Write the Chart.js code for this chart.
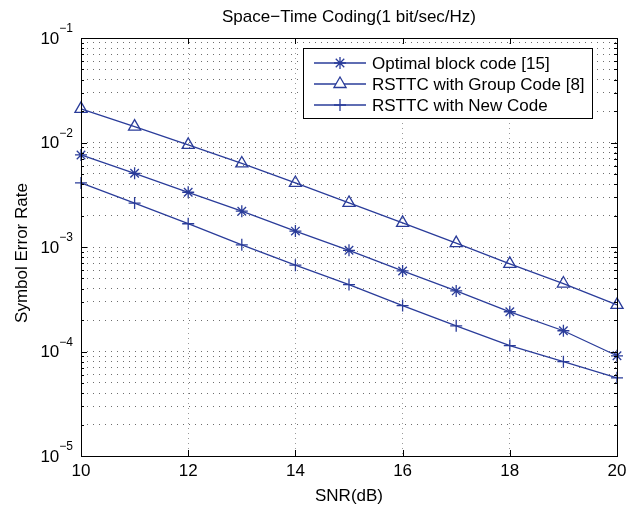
<!DOCTYPE html>
<html>
<head>
<meta charset="utf-8">
<script src="https://cdn.jsdelivr.net/npm/chart.js@4/dist/chart.umd.min.js"></script>
<style>
  html, body { margin: 0; padding: 0; background: #fff; }
  canvas { display: block; }
</style>
</head>
<body>
<canvas id="serChart" width="644" height="510"></canvas>
<script>
// Data
const snr = [10, 11, 12, 13, 14, 15, 16, 17, 18, 19, 20];
const optimalBlock = [7.6e-3, 5.07e-3, 3.34e-3, 2.2e-3, 1.42e-3, 9.3e-4, 5.9e-4, 3.8e-4, 2.4e-4, 1.58e-4, 9.1e-5];
const groupCode = [2.1e-2, 1.42e-2, 9.5e-3, 6.3e-3, 4.1e-3, 2.64e-3, 1.7e-3, 1.09e-3, 6.9e-4, 4.47e-4, 2.79e-4];
const newCode = [4.1e-3, 2.63e-3, 1.67e-3, 1.05e-3, 6.7e-4, 4.37e-4, 2.75e-4, 1.76e-4, 1.14e-4, 8.0e-5, 5.6e-5];
const seriesLabels = ['Optimal block code [15]', 'RSTTC with Group Code [8]', 'RSTTC with New Code'];
const xTicks = [10, 12, 14, 16, 18, 20];
const yExponents = [-5, -4, -3, -2, -1];

const lineColor = '#2a3c9a';
const fontFamily = '"Liberation Sans", Arial, Helvetica, sans-serif';

function toPoints(values) {
    return snr.map((x, i) => ({ x: x, y: values[i] }));
}

// all minor + major positions of the log axis
const yGridValues = [];
for (let e = -5; e <= -1; e++) {
    for (let m = 1; m <= 9; m++) {
        if (e === -1 && m > 1) break;
        yGridValues.push(m * Math.pow(10, e));
    }
}

const decorations = {
    id: 'decorations',
    afterDraw(chart) {
        const ctx = chart.ctx;
        const area = chart.chartArea;
        const xs = chart.scales.x;
        const ys = chart.scales.y;
        ctx.save();

        // axes box
        ctx.strokeStyle = '#000';
        ctx.lineWidth = 1;
        ctx.setLineDash([]);
        ctx.strokeRect(area.left + 0.5, area.top + 0.5, area.right - area.left, area.bottom - area.top);

        // inward ticks
        ctx.beginPath();
        xTicks.forEach(v => {
            const px = Math.round(xs.getPixelForValue(v)) + 0.5;
            ctx.moveTo(px, area.bottom); ctx.lineTo(px, area.bottom - 6);
            ctx.moveTo(px, area.top); ctx.lineTo(px, area.top + 6);
        });
        yGridValues.forEach(v => {
            const py = Math.round(ys.getPixelForValue(v)) + 0.5;
            const major = Math.abs(Math.log10(v) - Math.round(Math.log10(v))) < 1e-9;
            const len = major ? 6 : 3;
            ctx.moveTo(area.left, py); ctx.lineTo(area.left + len, py);
            ctx.moveTo(area.right, py); ctx.lineTo(area.right - len, py);
        });
        ctx.stroke();

        // y tick labels 10^n
        ctx.fillStyle = '#000';
        yExponents.forEach(e => {
            const py = ys.getPixelForValue(Math.pow(10, e));
            const sup = '\u2212' + Math.abs(e);
            ctx.font = '12px ' + fontFamily;
            const supW = ctx.measureText(sup).width;
            ctx.textAlign = 'right';
            ctx.textBaseline = 'middle';
            ctx.fillText(sup, area.left - 8, py - 9);
            ctx.font = '17px ' + fontFamily;
            ctx.fillText('10', area.left - 8 - supW, py + 1);
        });

        // title and axis titles
        ctx.font = '17px ' + fontFamily;
        ctx.textAlign = 'center';
        ctx.textBaseline = 'middle';
        ctx.fillText('Space\u2212Time Coding(1 bit/sec/Hz)', (area.left + area.right) / 2, 17);
        ctx.fillText('SNR(dB)', (area.left + area.right) / 2, 496);
        ctx.save();
        ctx.translate(22, 253);
        ctx.rotate(-Math.PI / 2);
        ctx.fillText('Symbol Error Rate', 0, 0);
        ctx.restore();

        // legend
        const lx = 303, ly = 48, lw = 289, lh = 70;
        ctx.fillStyle = '#fff';
        ctx.fillRect(lx, ly, lw, lh);
        ctx.strokeStyle = '#000';
        ctx.lineWidth = 1;
        ctx.strokeRect(lx + 0.5, ly + 0.5, lw, lh);
        chart.data.datasets.forEach((ds, i) => {
            const y = ly + 15 + i * 21;
            ctx.strokeStyle = lineColor;
            ctx.fillStyle = '#fff';
            ctx.lineWidth = 1.3;
            ctx.beginPath();
            ctx.moveTo(lx + 11, y); ctx.lineTo(lx + 63, y);
            ctx.stroke();
            Chart.helpers.drawPoint(ctx, {
                pointStyle: ds.pointStyle,
                radius: ds.pointRadius,
                borderWidth: 1.3,
                rotation: 0
            }, lx + 37, y);
            ctx.fillStyle = '#000';
            ctx.font = '17px ' + fontFamily;
            ctx.textAlign = 'left';
            ctx.textBaseline = 'middle';
            ctx.fillText(ds.label, lx + 69, y + 1);
        });
        ctx.restore();
    }
};

function makeDataset(label, values, style, radius) {
    return {
        label: label,
        data: toPoints(values),
        borderColor: lineColor,
        backgroundColor: 'rgba(0,0,0,0)',
        pointBorderColor: lineColor,
        pointBackgroundColor: 'rgba(0,0,0,0)',
        borderWidth: 1.3,
        pointBorderWidth: 1.3,
        pointStyle: style,
        pointRadius: radius,
        tension: 0
    };
}

new Chart(document.getElementById('serChart'), {
    type: 'line',
    data: {
        datasets: [
            makeDataset(seriesLabels[0], optimalBlock, 'star', 6),
            makeDataset(seriesLabels[1], groupCode, 'triangle', 7),
            makeDataset(seriesLabels[2], newCode, 'cross', 6)
        ]
    },
    options: {
        responsive: false,
        animation: false,
        clip: false,
        layout: { padding: { left: 0, right: 27, top: 38, bottom: 0 } },
        plugins: {
            legend: { display: false },
            tooltip: { enabled: false }
        },
        scales: {
            x: {
                type: 'linear',
                min: 10,
                max: 20,
                afterBuildTicks: scale => { scale.ticks = xTicks.map(v => ({ value: v })); },
                afterFit: scale => { scale.height = 54; },
                ticks: {
                    color: '#000',
                    padding: 5,
                    font: { family: fontFamily, size: 17 }
                },
                grid: {
                    color: ctx => (ctx.tick && (ctx.tick.value === 10 || ctx.tick.value === 20)) ? 'rgba(0,0,0,0)' : '#9a9a9a',
                    drawTicks: false,
                    lineWidth: 1
                },
                border: { display: false, dash: [1, 4] }
            },
            y: {
                type: 'logarithmic',
                min: 1e-5,
                max: 1e-1,
                afterBuildTicks: scale => { scale.ticks = yGridValues.map(v => ({ value: v })); },
                afterFit: scale => { scale.width = 81; },
                ticks: { display: false },
                grid: {
                    color: ctx => (ctx.tick && (ctx.tick.value === 1e-5 || ctx.tick.value === 1e-1)) ? 'rgba(0,0,0,0)' : '#6e6e6e',
                    drawTicks: false,
                    lineWidth: 1
                },
                border: { display: false, dash: [1, 5] }
            }
        }
    },
    plugins: [decorations]
});
</script>
</body>
</html>
